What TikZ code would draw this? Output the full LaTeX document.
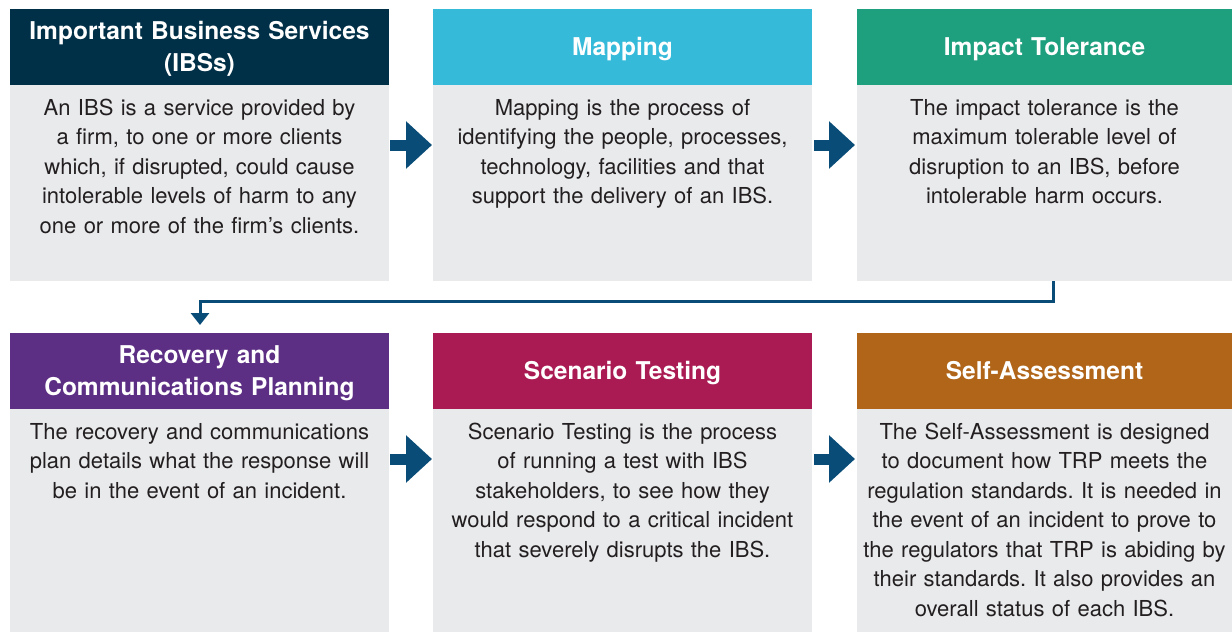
\documentclass[tikz,border=0pt]{standalone}
\usepackage{fontspec}
\setmainfont{TeX Gyre Heros}
\usetikzlibrary{arrows.meta}
\frenchspacing
\definecolor{navy}{RGB}{0,48,71}
\definecolor{sky}{RGB}{53,186,218}
\definecolor{teal}{RGB}{30,159,126}
\definecolor{purp}{RGB}{92,46,132}
\definecolor{mag}{RGB}{170,27,84}
\definecolor{orng}{RGB}{176,101,25}
\definecolor{bodygray}{RGB}{233,234,236}
\definecolor{arrowblue}{RGB}{9,76,120}
\definecolor{txt}{RGB}{35,31,32}
\begin{document}
\begin{tikzpicture}[x=1pt,y=-1pt,
  hdr/.style={inner sep=0pt,outer sep=0pt,minimum height=76pt,anchor=north west},
  bodybox/.style={inner sep=0pt,outer sep=0pt,fill=bodygray,anchor=north west},
  hdrtext/.style={inner sep=0pt,anchor=base,text width=370pt,align=center,text=white,
    font=\fontsize{24.5}{32.5}\selectfont\bfseries\frenchspacing},
  bodytext/.style={inner sep=0pt,anchor=base,text width=375pt,align=center,text=txt,
    font=\fontsize{22}{29.5}\selectfont\frenchspacing},
  blockarrow/.style={draw=arrowblue,line width=11pt,-{Triangle[length=26pt,width=46pt]}},
  conn/.style={draw=arrowblue,line width=3pt,-{Triangle[length=12pt,width=18pt]}}]
\useasboundingbox (0,0) rectangle (1232,632);
% row 1
\node[bodybox,minimum width=379pt,minimum height=196pt] (b1) at (10,85) {};
\node[bodybox,minimum width=379pt,minimum height=196pt] (b2) at (433,85) {};
\node[bodybox,minimum width=375pt,minimum height=196pt] (b3) at (857,85) {};
\node[hdr,fill=navy,minimum width=379pt] (h1) at (10,9) {};
\node[hdr,fill=sky,minimum width=379pt] (h2) at (433,9) {};
\node[hdr,fill=teal,minimum width=375pt] (h3) at (857,9) {};
% row 2
\node[bodybox,minimum width=379pt,minimum height=223pt] (b4) at (10,409) {};
\node[bodybox,minimum width=379pt,minimum height=223pt] (b5) at (433,409) {};
\node[bodybox,minimum width=375pt,minimum height=223pt] (b6) at (857,409) {};
\node[hdr,fill=purp,minimum width=379pt] (h4) at (10,333) {};
\node[hdr,fill=mag,minimum width=379pt] (h5) at (433,333) {};
\node[hdr,fill=orng,minimum width=375pt] (h6) at (857,333) {};
% header texts
\node[hdrtext] (l1) at ([yshift=8pt]h1.center) {Important Business Services\\(IBSs)};
\node[hdrtext] (l2) at ([yshift=-8.3pt]h2.center) {Mapping};
\node[hdrtext] (l3) at ([yshift=-8.3pt]h3.center) {Impact Tolerance};
\node[hdrtext] (l4) at ([yshift=8pt]h4.center) {Recovery and\\Communications Planning};
\node[hdrtext] (l5) at ([yshift=-8.3pt]h5.center) {Scenario Testing};
\node[hdrtext] (l6) at ([yshift=-8.3pt]h6.center) {Self-Assessment};
% body texts
\node[bodytext] (t1) at ([yshift=-30pt]b1.north) {An IBS is a service provided by\\a firm, to one or more clients\\which, if disrupted, could cause\\intolerable levels of harm to any\\one or more of the firm’s clients.};
\node[bodytext] (t2) at ([yshift=-30pt]b2.north) {Mapping is the process of\\identifying the people, processes,\\technology, facilities and that\\support the delivery of an IBS.};
\node[bodytext] (t3) at ([yshift=-30pt]b3.north) {The impact tolerance is the\\maximum tolerable level of\\disruption to an IBS, before\\intolerable harm occurs.};
\node[bodytext] (t4) at ([yshift=-30pt]b4.north) {The recovery and communications\\plan details what the response will\\be in the event of an incident.};
\node[bodytext] (t5) at ([yshift=-30pt]b5.north) {Scenario Testing is the process\\of running a test with IBS\\stakeholders, to see how they\\would respond to a critical incident\\that severely disrupts the IBS.};
\node[bodytext] (t6) at ([yshift=-30pt]b6.north) {The Self-Assessment is designed\\to document how TRP meets the\\regulation standards. It is needed in\\the event of an incident to prove to\\the regulators that TRP is abiding by\\their standards. It also provides an\\overall status of each IBS.};
% block arrows
\draw[blockarrow] ([shift={(1,60)}]b1.north east) -- ([shift={(-1,60)}]b2.north west);
\draw[blockarrow] ([shift={(2,60)}]b2.north east) -- ([shift={(-2,60)}]b3.north west);
\draw[blockarrow] ([shift={(1,50)}]b4.north east) -- ([shift={(-1,50)}]b5.north west);
\draw[blockarrow] ([shift={(2,50)}]b5.north east) -- ([shift={(-2,50)}]b6.north west);
% connector
\coordinate (c0) at (1053,281);
\coordinate (c1) at (200,325);
\draw[conn] (c0) -- (1053,301.5) -| (c1);
\end{tikzpicture}
\end{document}
